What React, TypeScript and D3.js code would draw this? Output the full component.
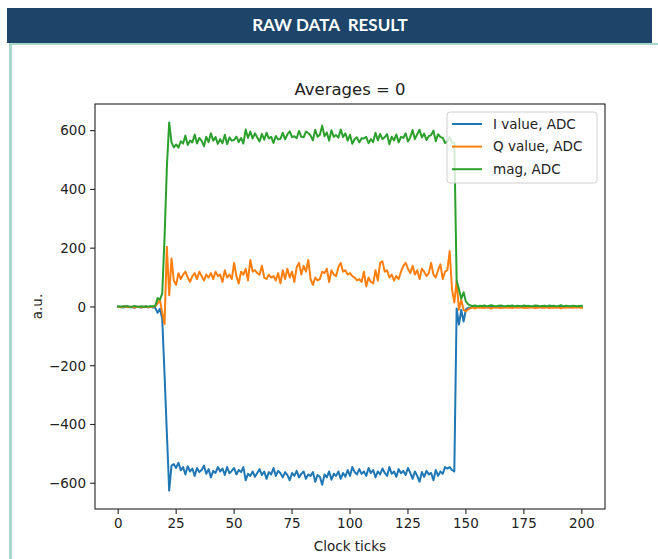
import React from "react";
import * as d3 from "d3";

const clockTicks: number[] = d3.range(0, 201);

const iValues: number[] = [
  0, 1, -2, 0, 2, -1, 0, -3, 1, 0, -2, 1, 0, -1, 2, -2,
  -3, -20, -6, -40, -230, -430, -625, -540,
  -535, -548, -530, -556, -545, -570, -542, -560, -550, -575,
  -548, -562, -555, -540, -568, -552, -580, -558, -565, -545,
  -560, -550, -572, -545, -566, -558, -548, -570, -555, -562,
  -545, -590, -568, -575, -560, -578, -565, -552, -572, -560,
  -585, -562, -570, -548, -575, -558, -566, -580, -562, -572,
  -590, -565, -575, -558, -580, -568, -560, -585, -570, -575,
  -562, -595, -572, -578, -605, -570, -580, -560, -588, -568,
  -575, -560, -585, -565, -578, -555, -575, -545, -562, -570,
  -552, -568, -560, -575, -548, -565, -555, -580, -560, -570,
  -550, -565, -575, -545, -568, -560, -578, -552, -566, -558,
  -572, -548, -565, -585, -560, -575, -595, -562, -578, -558,
  -570, -565, -590, -555, -575, -560, -568, -545,
  -550,
  -545, -555, -560, -5, -60, -10, -50, -8, -3,
  -3, 1, -2, 0, 1, -1, 2, 0, -2, 1,
  0, -1, 1, 0, -2, 1, 0, 2, -1, 0,
  1, -1, 0, 2, -2, 0, 1, -1, 0, 1,
  0, -2, 1, 0, -1, 2, 0, -1, 1, 0,
  -2, 1, 0, -1, 1, 0, 0, 1, -1,
];

const qValues: number[] = [
  1, -1, 0, 2, -1, 0, 1, -2, 0, 1, -1, 0, 2, -1, 0, 1,
  2, 12, 25, -20, -58, 205, 40, 165,
  90, 75, 115, 95, 110, 120, 100, 85, 105, 115,
  95, 120, 105, 90, 110, 100, 115, 95, 120, 105,
  110, 85, 125, 100, 110, 95, 150, 105, 80, 120,
  110, 130, 90, 160, 120, 125, 115, 110, 140, 100,
  95, 110, 100, 105, 90, 115, 80, 125, 95, 130,
  100, 120, 85, 135, 150, 110, 140, 120, 160, 95,
  75, 100, 90, 95, 120, 115, 130, 85, 125, 110,
  105, 135, 150, 120, 125, 110, 115, 105, 100, 90,
  95, 85, 120, 70, 100, 85, 80, 125, 90, 150,
  155, 120, 125, 100, 110, 90, 105, 95, 120, 140,
  150, 130, 115, 140, 110, 125, 95, 130, 120, 105,
  115, 150, 110, 100, 125, 145, 95, 120,
  125,
  190, 60, 15, 90, -10, 25, -10, -15, -8,
  -4, -2, -5, -1, -3, -2, -4, -1, -3, -5,
  -2, -1, -3, -4, -2, -1, -3, -2, -4, -1,
  -3, -2, -1, -4, -2, -3, -1, -2, -4, -3,
  -1, -2, -3, -1, -4, -2, -3, -1, -2, -5,
  -1, -3, -2, -1, -3, -2, -1, -2, -3,
];

const magValues: number[] = [
  2, 1, 2, 2, 2, 1, 1, 3, 1, 1, 2, 1, 2, 1, 2, 2,
  4, 30, 25, 45, 235, 475, 628, 560,
  543, 553, 542, 564, 556, 583, 551, 566, 560, 587,
  556, 575, 565, 547, 579, 561, 591, 566, 578, 555,
  571, 557, 586, 554, 577, 566, 568, 580, 561, 575,
  556, 604, 575, 597, 573, 591, 577, 563, 589, 569,
  593, 573, 579, 558, 582, 570, 572, 593, 570, 587,
  598, 578, 581, 574, 599, 579, 577, 597, 592, 583,
  567, 603, 579, 586, 617, 581, 594, 566, 601, 579,
  585, 576, 604, 578, 591, 566, 586, 555, 571, 577,
  560, 574, 573, 579, 557, 571, 561, 593, 567, 589,
  571, 578, 588, 554, 579, 567, 587, 560, 579, 575,
  591, 563, 577, 602, 571, 588, 603, 577, 590, 568,
  581, 585, 600, 564, 588, 578, 576, 558,
  563,
  577, 558, 560, 90, 60, 28, 50, 18, 9,
  5, 3, 5, 2, 4, 3, 5, 2, 4, 6,
  3, 2, 4, 5, 3, 2, 4, 3, 5, 2,
  4, 3, 2, 5, 3, 4, 2, 3, 5, 4,
  2, 3, 4, 2, 5, 3, 4, 2, 3, 6,
  2, 4, 3, 2, 4, 3, 2, 3, 4,
];

const seriesNames: string[] = ["I value, ADC", "Q value, ADC", "mag, ADC"];
const seriesColors: string[] = ["#1f77b4", "#ff7f0e", "#2ca02c"];
const xTicks: number[] = [0, 25, 50, 75, 100, 125, 150, 175, 200];
const yTicks: number[] = [-600, -400, -200, 0, 200, 400, 600];
const headerText = "RAW DATA  RESULT";
const titleText = "Averages = 0";
const xLabel = "Clock ticks";
const yLabel = "a.u.";

const W = 658;
const H = 559;
const plot = { left: 95, right: 605, top: 104, bottom: 509 };
const FONT = "'DejaVu Sans', sans-serif";

export default function App() {
  const allSeries = [iValues, qValues, magValues];
  const xExt = d3.extent(clockTicks) as [number, number];
  const xPad = (xExt[1] - xExt[0]) * 0.05;
  const x = d3
    .scaleLinear()
    .domain([xExt[0] - xPad, xExt[1] + xPad])
    .range([plot.left, plot.right]);
  const flat = allSeries.flat();
  const yMin = d3.min(flat) as number;
  const yMax = d3.max(flat) as number;
  const yPad = (yMax - yMin) * 0.05;
  const y = d3
    .scaleLinear()
    .domain([yMin - yPad, yMax + yPad])
    .range([plot.bottom, plot.top]);

  const line = d3
    .line<number>()
    .x((_, i) => x(clockTicks[i]))
    .y((d) => y(d));

  const fmt = (v: number) => (v < 0 ? "\u2212" + Math.abs(v) : String(v));
  const cx = (plot.left + plot.right) / 2;
  const cy = (plot.top + plot.bottom) / 2;

  const legend = { x: 447, y: 112, w: 150, h: 71 };

  return (
    <svg
      width={W}
      height={H}
      viewBox={`0 0 ${W} ${H}`}
      style={{ position: "absolute", left: 0, top: 0, background: "#fff" }}
    >
      <rect x={0} y={0} width={W} height={H} fill="#ffffff" />
      {/* header */}
      <rect x={7} y={8} width={645} height={35} fill="#1d4469" />
      <text
        x={330}
        y={31}
        textAnchor="middle"
        fill="#ffffff"
        fontFamily="Lato, 'Open Sans', sans-serif"
        fontWeight="bold"
        fontSize={17}
        style={{ whiteSpace: "pre" }}
      >
        {headerText}
      </text>
      <rect x={9} y={43} width={649} height={2} fill="#a9d6ca" />
      <rect x={9} y={43} width={3} height={H - 43} fill="#a9d6ca" />

      {/* lines */}
      <g clipPath="url(#clip)">
        <defs>
          <clipPath id="clip">
            <rect
              x={plot.left}
              y={plot.top}
              width={plot.right - plot.left}
              height={plot.bottom - plot.top}
            />
          </clipPath>
        </defs>
        {allSeries.map((s, k) => (
          <path
            key={k}
            d={line(s) || ""}
            fill="none"
            stroke={seriesColors[k]}
            strokeWidth={2}
            strokeLinejoin="round"
            strokeLinecap="square"
          />
        ))}
      </g>

      {/* axes frame */}
      <rect
        x={plot.left}
        y={plot.top}
        width={plot.right - plot.left}
        height={plot.bottom - plot.top}
        fill="none"
        stroke="#222"
        strokeWidth={1.1}
      />

      {/* x ticks */}
      {xTicks.map((t) => (
        <g key={"x" + t}>
          <line
            x1={x(t)}
            x2={x(t)}
            y1={plot.bottom}
            y2={plot.bottom + 4.9}
            stroke="#222"
            strokeWidth={1.1}
          />
          <text
            x={x(t)}
            y={plot.bottom + 19}
            textAnchor="middle"
            fontFamily={FONT}
            fontSize={13.5}
            fill="#222"
          >
            {fmt(t)}
          </text>
        </g>
      ))}

      {/* y ticks */}
      {yTicks.map((t) => (
        <g key={"y" + t}>
          <line
            x1={plot.left - 4.9}
            x2={plot.left}
            y1={y(t)}
            y2={y(t)}
            stroke="#222"
            strokeWidth={1.1}
          />
          <text
            x={plot.left - 9}
            y={y(t)}
            dy="0.36em"
            textAnchor="end"
            fontFamily={FONT}
            fontSize={13.5}
            fill="#222"
          >
            {fmt(t)}
          </text>
        </g>
      ))}

      {/* title and labels */}
      <text
        x={cx}
        y={plot.top - 9}
        textAnchor="middle"
        fontFamily={FONT}
        fontSize={16.5}
        fill="#222"
      >
        {titleText}
      </text>
      <text
        x={cx}
        y={551}
        textAnchor="middle"
        fontFamily={FONT}
        fontSize={13.5}
        fill="#222"
      >
        {xLabel}
      </text>
      <text
        transform={`translate(42, ${cy}) rotate(-90)`}
        textAnchor="middle"
        fontFamily={FONT}
        fontSize={13.5}
        fill="#222"
      >
        {yLabel}
      </text>

      {/* legend */}
      <rect
        x={legend.x}
        y={legend.y}
        width={legend.w}
        height={legend.h}
        rx={3}
        fill="#ffffff"
        fillOpacity={0.8}
        stroke="#d0d0d0"
        strokeWidth={1}
      />
      {seriesNames.map((name, k) => {
        const ly = 124 + k * 22.6;
        return (
          <g key={name}>
            <line
              x1={452}
              x2={482}
              y1={ly}
              y2={ly}
              stroke={seriesColors[k]}
              strokeWidth={2}
            />
            <text
              x={493}
              y={ly}
              dy="0.36em"
              fontFamily={FONT}
              fontSize={13.5}
              fill="#222"
            >
              {name}
            </text>
          </g>
        );
      })}
    </svg>
  );
}
